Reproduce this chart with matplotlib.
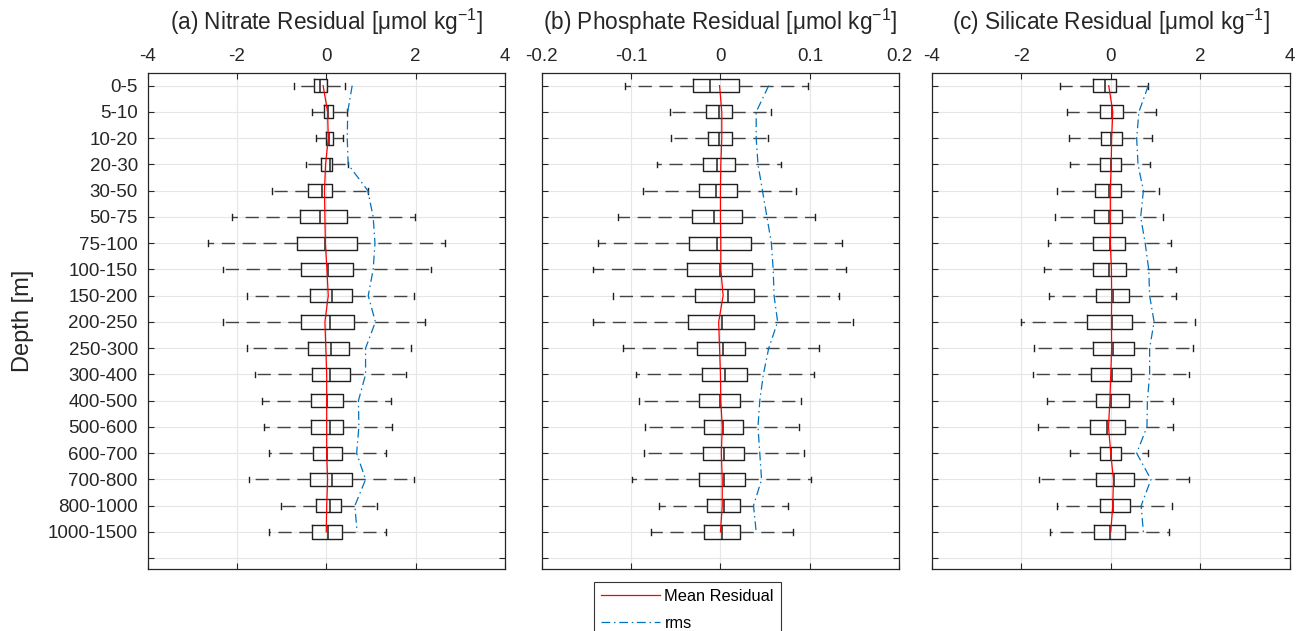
import matplotlib
matplotlib.use("Agg")
import matplotlib.pyplot as plt
import numpy as np

plt.rcParams['font.family'] = ['Liberation Sans', 'DejaVu Sans']
plt.rcParams['mathtext.default'] = 'regular'
plt.rcParams['axes.unicode_minus'] = False

depths = ['0-5', '5-10', '10-20', '20-30', '30-50', '50-75', '75-100', '100-150',
          '150-200', '200-250', '250-300', '300-400', '400-500', '500-600',
          '600-700', '700-800', '800-1000', '1000-1500']

# ---- (a) Nitrate ----
no3_wlo = [-0.73, -0.33, -0.22, -0.46, -1.21, -2.10, -2.64, -2.31, -1.78, -2.31, -1.77, -1.60, -1.43, -1.40, -1.27, -1.72, -1.02, -1.27]
no3_q1  = [-0.28, -0.04, 0.00, -0.12, -0.40, -0.58, -0.65, -0.57, -0.37, -0.57, -0.40, -0.32, -0.35, -0.35, -0.30, -0.37, -0.22, -0.31]
no3_med = [-0.14, 0.05, 0.07, 0.08, -0.10, -0.14, -0.02, 0.05, 0.12, 0.075, 0.10, 0.075, 0.01, 0.075, 0.015, 0.13, 0.075, 0.03]
no3_q3  = [0.015, 0.16, 0.15, 0.13, 0.13, 0.47, 0.68, 0.59, 0.58, 0.62, 0.52, 0.54, 0.38, 0.38, 0.36, 0.58, 0.33, 0.36]
no3_whi = [0.43, 0.46, 0.37, 0.49, 0.93, 1.99, 2.66, 2.34, 1.96, 2.22, 1.90, 1.79, 1.45, 1.47, 1.33, 1.97, 1.14, 1.33]
no3_mean = [-0.07, 0.03, 0.045, -0.015, -0.04, -0.03, -0.02, 0.015, 0.045, -0.03, -0.01, 0.01, 0.01, 0.01, 0.01, 0.03, 0.01, 0.0]
no3_rms  = [0.58, 0.48, 0.47, 0.49, 0.93, 1.05, 1.09, 1.05, 0.94, 1.10, 0.88, 0.88, 0.72, 0.73, 0.68, 0.88, 0.64, 0.69]

# ---- (b) Phosphate ----
po4_wlo = [-0.107, -0.057, -0.055, -0.071, -0.087, -0.115, -0.137, -0.143, -0.120, -0.143, -0.109, -0.095, -0.091, -0.084, -0.085, -0.099, -0.069, -0.078]
po4_q1  = [-0.031, -0.016, -0.014, -0.019, -0.024, -0.032, -0.035, -0.037, -0.028, -0.036, -0.026, -0.021, -0.024, -0.018, -0.020, -0.024, -0.015, -0.018]
po4_med = [-0.012, -0.002, -0.0015, -0.004, -0.0045, -0.007, -0.004, 0.0, 0.008, 0.0015, 0.003, 0.005, 0.0, 0.003, 0.004, 0.0045, 0.0045, 0.002]
po4_q3  = [0.021, 0.013, 0.013, 0.016, 0.019, 0.024, 0.034, 0.035, 0.037, 0.038, 0.028, 0.030, 0.022, 0.025, 0.026, 0.028, 0.022, 0.022]
po4_whi = [0.098, 0.056, 0.053, 0.068, 0.084, 0.106, 0.136, 0.140, 0.133, 0.148, 0.110, 0.105, 0.090, 0.088, 0.094, 0.101, 0.076, 0.081]
po4_mean = [-0.001, 0.0015, 0.0015, 0.0004, 0.0, 0.0, 0.0004, 0.0004, 0.003, -0.002, -0.001, 0.0, 0.0004, 0.002, 0.001, 0.002, 0.002, 0.0]
po4_rms  = [0.054, 0.040, 0.040, 0.042, 0.047, 0.052, 0.057, 0.059, 0.060, 0.064, 0.054, 0.048, 0.044, 0.042, 0.044, 0.046, 0.037, 0.040]

# ---- (c) Silicate ----
si_wlo = [-1.13, -0.97, -0.93, -0.92, -1.20, -1.24, -1.40, -1.49, -1.38, -2.00, -1.72, -1.75, -1.42, -1.63, -0.92, -1.61, -1.20, -1.35]
si_q1  = [-0.40, -0.24, -0.22, -0.25, -0.36, -0.37, -0.39, -0.40, -0.33, -0.53, -0.39, -0.44, -0.34, -0.46, -0.24, -0.34, -0.24, -0.37]
si_med = [-0.13, 0.03, 0.015, 0.015, -0.05, -0.05, -0.02, -0.05, 0.04, 0.02, 0.05, 0.02, 0.0, -0.09, 0.0, 0.075, 0.06, -0.015]
si_q3  = [0.11, 0.27, 0.25, 0.22, 0.23, 0.25, 0.31, 0.34, 0.40, 0.47, 0.51, 0.46, 0.40, 0.33, 0.24, 0.53, 0.42, 0.31]
si_whi = [0.84, 1.02, 0.93, 0.88, 1.09, 1.16, 1.34, 1.46, 1.47, 1.88, 1.85, 1.76, 1.40, 1.40, 0.83, 1.75, 1.37, 1.31]
si_mean = [-0.045, 0.045, 0.02, 0.01, -0.01, -0.01, -0.01, 0.015, 0.02, 0.015, 0.02, 0.0, -0.02, -0.05, 0.0, 0.06, 0.045, 0.0]
si_rms  = [0.84, 0.63, 0.58, 0.61, 0.73, 0.67, 0.77, 0.85, 0.87, 0.97, 0.87, 0.87, 0.82, 0.81, 0.58, 0.90, 0.68, 0.73]

panels = [
    dict(title='(a) Nitrate Residual [μmol kg$^{-1}$]', xlim=(-4, 4), xticks=[-4, -2, 0, 2, 4],
         xticklabels=['-4', '-2', '0', '2', '4'],
         wlo=no3_wlo, q1=no3_q1, med=no3_med, q3=no3_q3, whi=no3_whi, mean=no3_mean, rms=no3_rms),
    dict(title='(b) Phosphate Residual [μmol kg$^{-1}$]', xlim=(-0.2, 0.2), xticks=[-0.2, -0.1, 0, 0.1, 0.2],
         xticklabels=['-0.2', '-0.1', '0', '0.1', '0.2'],
         wlo=po4_wlo, q1=po4_q1, med=po4_med, q3=po4_q3, whi=po4_whi, mean=po4_mean, rms=po4_rms),
    dict(title='(c) Silicate Residual [μmol kg$^{-1}$]', xlim=(-4, 4), xticks=[-4, -2, 0, 2, 4],
         xticklabels=['-4', '-2', '0', '2', '4'],
         wlo=si_wlo, q1=si_q1, med=si_med, q3=si_q3, whi=si_whi, mean=si_mean, rms=si_rms),
]

W, H = 1302, 631
fig = plt.figure(figsize=(W / 100, H / 100), dpi=100)
lefts = [147.5, 541.7, 932.0]
ax_w = 357.5
ax_top, ax_bot = 73.3, 569.0

positions = np.arange(1, len(depths) + 1)
rms_color = '#0072BD'
spine_col = '#262626'

line_handles = None
for i, p in enumerate(panels):
    ax = fig.add_axes([lefts[i] / W, 1 - ax_bot / H, ax_w / W, (ax_bot - ax_top) / H])
    stats = []
    for k in range(len(depths)):
        stats.append(dict(med=p['med'][k], q1=p['q1'][k], q3=p['q3'][k],
                          whislo=p['wlo'][k], whishi=p['whi'][k], fliers=[]))
    ax.bxp(stats, positions=positions, orientation='horizontal', widths=0.5,
           capwidths=0.22, showfliers=False, manage_ticks=False,
           boxprops=dict(color='#202020', linewidth=1.0),
           medianprops=dict(color='#202020', linewidth=1.1),
           whiskerprops=dict(color='#444444', linewidth=1.0, linestyle=(0, (9.5, 5.5))),
           capprops=dict(color='#202020', linewidth=1.0))
    l1, = ax.plot(p['mean'], positions, color='red', lw=0.9, label='Mean Residual', zorder=4)
    l2, = ax.plot(p['rms'], positions, color=rms_color, lw=0.9,
                  linestyle=(0, (7, 3, 1.2, 3)), label='rms', zorder=4)
    line_handles = [l1, l2]

    ax.set_xlim(*p['xlim'])
    ax.set_ylim(19.41, 0.53)
    ax.set_xticks(p['xticks'])
    ax.set_xticklabels(p['xticklabels'])
    ax.set_yticks(np.arange(1, 20))
    if i == 0:
        ax.set_yticklabels(depths + [''])
    else:
        ax.set_yticklabels([])
    ax.tick_params(axis='x', which='both', top=True, bottom=True, labeltop=True,
                   labelbottom=False, direction='in', length=4, width=0.8,
                   labelsize=13.5, pad=6, colors=spine_col, labelcolor='#262626')
    ax.tick_params(axis='y', which='both', left=True, right=True, direction='in',
                   length=4, width=0.8, labelsize=13.5, pad=7, colors=spine_col,
                   labelcolor='#262626')
    ax.grid(True, color='#e6e6e6', linewidth=0.8)
    ax.set_axisbelow(True)
    for s in ax.spines.values():
        s.set_color(spine_col)
        s.set_linewidth(0.9)
    ax.set_title(p['title'], fontsize=16.3, pad=13, color='#262626')

fig.text(23 / W, 1 - 321 / H, 'Depth [m]', rotation=90, ha='center', va='center',
         fontsize=17, color='#262626')

leg = fig.legend(line_handles, ['Mean Residual', 'rms'], loc='upper left',
                 bbox_to_anchor=(594 / W, 1 - 582 / H), bbox_transform=fig.transFigure,
                 fontsize=11.8, frameon=True, fancybox=False, edgecolor='black',
                 handlelength=3.6, handletextpad=0.3, borderpad=0.4, labelspacing=0.75,
                 borderaxespad=0)
leg.get_frame().set_linewidth(0.8)

fig.savefig('out.png', dpi=100)
